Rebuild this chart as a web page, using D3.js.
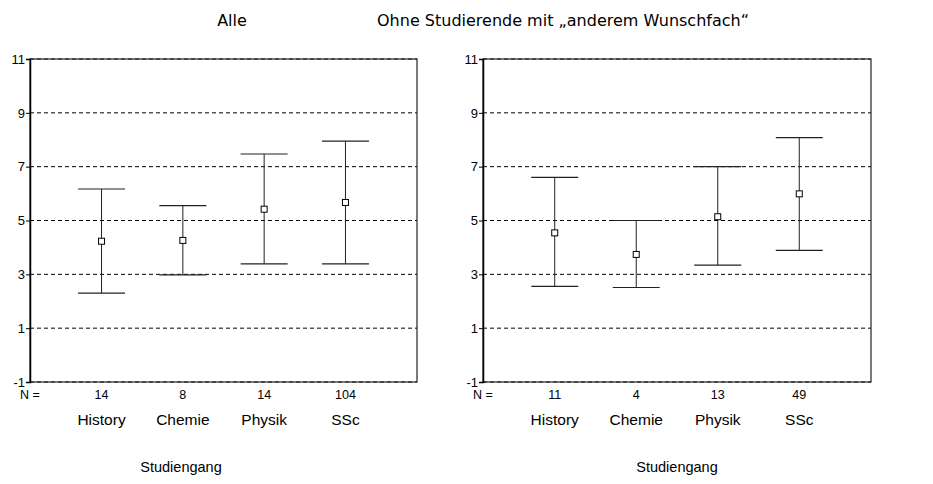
<!DOCTYPE html>
<html>
<head>
<meta charset="utf-8">
<script src="https://cdn.jsdelivr.net/npm/d3@7"></script>
<style>
  html, body { margin: 0; padding: 0; background: #fff; }
  svg { display: block; }
</style>
</head>
<body>
<svg id="chart" width="933" height="484"></svg>
<script>
// Study programmes on the x axis
const categories = ["History", "Chemie", "Physik", "SSc"];
const yTicks = [-1, 1, 3, 5, 7, 9, 11];

// Panel 1: all students (mean with interval bounds, group size)
const allN = [14, 8, 14, 104];
const allMean = [4.23, 4.26, 5.42, 5.67];
const allLow = [2.30, 2.98, 3.39, 3.39];
const allHigh = [6.17, 5.55, 7.47, 7.95];

// Panel 2: without students who named a different preferred subject
const subN = [11, 4, 13, 49];
const subMean = [4.54, 3.74, 5.14, 5.99];
const subLow = [2.55, 2.51, 3.34, 3.89];
const subHigh = [6.60, 5.00, 7.00, 8.08];

const panels = [
  { title: "Alle", titleX: 232, titleAnchor: "middle", xLabelX: 181,
    left: 30, right: 417, n: allN, mean: allMean, low: allLow, high: allHigh },
  { title: "Ohne Studierende mit \u201Eanderem Wunschfach\u201C", titleX: 377, titleAnchor: "start", xLabelX: 677,
    left: 483, right: 871, n: subN, mean: subMean, low: subLow, high: subHigh }
];

const plotTop = 59, plotBottom = 382;
const svg = d3.select("#chart");
const axisFont = "'Liberation Sans', Arial, sans-serif";

panels.forEach(p => {
  const g = svg.append("g");
  const x = d3.scaleLinear().domain([0.12, 4.88]).range([p.left, p.right]);
  const y = d3.scaleLinear().domain([-1, 11]).range([plotBottom, plotTop]);
  const rows = categories.map((c, i) => ({
    cat: c, pos: i + 1, n: p.n[i], mean: p.mean[i], low: p.low[i], high: p.high[i]
  }));

  // Dashed reference lines at each tick
  g.selectAll("line.grid").data(yTicks).join("line")
    .attr("class", "grid")
    .attr("x1", p.left).attr("x2", p.right)
    .attr("y1", d => y(d)).attr("y2", d => y(d))
    .attr("stroke", "#000").attr("stroke-width", 1)
    .attr("stroke-dasharray", "4,3");

  // Plot frame
  g.append("rect")
    .attr("x", p.left).attr("y", plotTop)
    .attr("width", p.right - p.left).attr("height", plotBottom - plotTop)
    .attr("fill", "none").attr("stroke", "#222").attr("stroke-width", 1.2);

  // Y axis with ticks and labels
  const yAxis = d3.axisLeft(y).tickValues(yTicks).tickSize(4).tickPadding(1).tickFormat(d => String(d));
  const ya = g.append("g").attr("transform", `translate(${p.left},0)`).call(yAxis);
  ya.attr("font-size", 13).attr("font-family", axisFont);
  ya.select(".domain").attr("stroke", "#000").attr("stroke-width", 1.5);
  ya.selectAll(".tick line").attr("stroke", "#000");
  ya.selectAll(".tick text").style("font-size", "13px").style("font-family", axisFont).attr("fill", "#000");

  // Vertical interval lines
  g.selectAll("line.stem").data(rows).join("line")
    .attr("class", "stem")
    .attr("x1", d => x(d.pos)).attr("x2", d => x(d.pos))
    .attr("y1", d => y(d.high)).attr("y2", d => y(d.low))
    .attr("stroke", "#222").attr("stroke-width", 1);

  // Caps at upper and lower bounds
  const capHalf = 23.5;
  ["high", "low"].forEach(k => {
    g.selectAll(`line.cap-${k}`).data(rows).join("line")
      .attr("class", `cap-${k}`)
      .attr("x1", d => x(d.pos) - capHalf).attr("x2", d => x(d.pos) + capHalf)
      .attr("y1", d => y(d[k])).attr("y2", d => y(d[k]))
      .attr("stroke", "#222").attr("stroke-width", 1.2);
  });

  // Mean markers
  g.selectAll("rect.mean").data(rows).join("rect")
    .attr("class", "mean")
    .attr("x", d => x(d.pos) - 3).attr("y", d => y(d.mean) - 3)
    .attr("width", 6).attr("height", 6)
    .attr("fill", "#fff").attr("stroke", "#000").attr("stroke-width", 1);

  // Group sizes
  g.append("text")
    .attr("x", p.left).attr("y", 399)
    .attr("text-anchor", "middle")
    .attr("font-family", axisFont).attr("font-size", 12.5)
    .text("N =");
  g.selectAll("text.n").data(rows).join("text")
    .attr("class", "n")
    .attr("x", d => x(d.pos)).attr("y", 399)
    .attr("text-anchor", "middle")
    .attr("font-family", axisFont).attr("font-size", 12.5)
    .text(d => d.n);

  // Category names
  g.selectAll("text.cat").data(rows).join("text")
    .attr("class", "cat")
    .attr("x", d => x(d.pos)).attr("y", 425)
    .attr("text-anchor", "middle")
    .attr("font-family", axisFont).attr("font-size", 15.5)
    .text(d => d.cat);

  // Axis title
  g.append("text")
    .attr("x", p.xLabelX).attr("y", 472)
    .attr("text-anchor", "middle")
    .attr("font-family", axisFont).attr("font-size", 14.5)
    .text("Studiengang");

  // Panel title
  g.append("text")
    .attr("x", p.titleX).attr("y", 26)
    .attr("text-anchor", p.titleAnchor)
    .attr("font-family", "'DejaVu Sans', Verdana, sans-serif").attr("font-size", 16)
    .text(p.title);
});
</script>
</body>
</html>
